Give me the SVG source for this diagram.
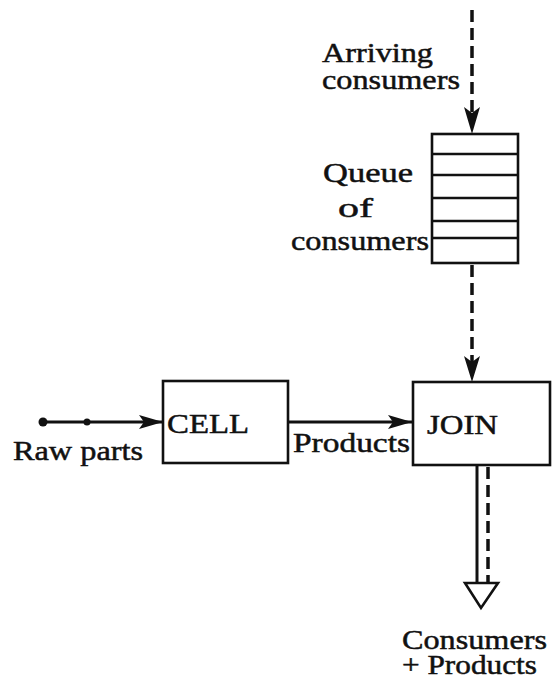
<svg xmlns="http://www.w3.org/2000/svg" width="554" height="682" viewBox="0 0 554 682" font-family="'Liberation Serif', 'Times New Roman', Times, serif">
  <style>
    .box { fill: #fff; stroke: #111; stroke-width: 2.6; }
    .solid { fill: none; stroke: #111; stroke-width: 3; }
    .dash { fill: none; stroke: #111; stroke-width: 3.5; stroke-dasharray: 12 6; }
    .slot { stroke: #111; stroke-width: 2.6; }
    .lbl { font-family: 'Liberation Serif', 'Times New Roman', Times, serif; font-size: 28px; fill: #111; stroke: #111; stroke-width: 0.5; }
  </style>
  <defs>
    <marker id="head" viewBox="0 0 24 14" refX="24" refY="7" markerWidth="24" markerHeight="14" markerUnits="userSpaceOnUse" orient="auto">
      <path d="M0,0 L24,7 L0,14 L5,7 Z" fill="#111"/>
    </marker>
  </defs>
  <rect width="554" height="682" fill="#fff"/>

  <g id="connectors">
    <!-- arriving consumers into the queue -->
    <line class="dash" x1="472" y1="10" x2="472" y2="112"/>
    <path d="M464,107 L472,113 L480,107 L472,134 Z" fill="#111"/>
    <!-- queue to JOIN -->
    <line class="dash" x1="472" y1="265" x2="472" y2="362"/>
    <path d="M464,356 L472,362 L480,356 L472,382 Z" fill="#111"/>
    <!-- raw parts into CELL -->
    <line class="solid" x1="43" y1="422" x2="163" y2="422" marker-end="url(#head)"/>
    <circle cx="43" cy="422" r="4.5" fill="#111"/>
    <circle cx="87" cy="422" r="3.5" fill="#111"/>
    <!-- products from CELL to JOIN -->
    <line class="solid" x1="288" y1="422" x2="412" y2="422" marker-end="url(#head)"/>
    <!-- consumers + products out of JOIN -->
    <line class="solid" x1="477" y1="465" x2="477" y2="583"/>
    <line class="dash" x1="488" y1="467" x2="488" y2="583"/>
    <path d="M465,583 L498,583 L481,608 Z" fill="#fff" stroke="#111" stroke-width="2.6" stroke-linejoin="miter"/>
  </g>

  <g id="arriving-label">
    <text class="lbl" x="322" y="62" textLength="111" lengthAdjust="spacingAndGlyphs">Arriving</text>
    <text class="lbl" x="322" y="89" textLength="138" lengthAdjust="spacingAndGlyphs">consumers</text>
  </g>

  <g id="queue">
    <rect class="box" x="432" y="134" width="86" height="129"/>
    <line class="slot" x1="432" y1="154" x2="518" y2="154"/>
    <line class="slot" x1="432" y1="175" x2="518" y2="175"/>
    <line class="slot" x1="432" y1="198" x2="518" y2="198"/>
    <line class="slot" x1="432" y1="221" x2="518" y2="221"/>
    <line class="slot" x1="432" y1="238" x2="518" y2="238"/>
    <text class="lbl" x="323" y="182" textLength="90" lengthAdjust="spacingAndGlyphs">Queue</text>
    <text class="lbl" x="338" y="217" textLength="35" lengthAdjust="spacingAndGlyphs">of</text>
    <text class="lbl" x="291" y="250" textLength="138" lengthAdjust="spacingAndGlyphs">consumers</text>
  </g>

  <g id="raw-parts">
    <text class="lbl" x="13" y="460" textLength="130" lengthAdjust="spacingAndGlyphs">Raw parts</text>
  </g>

  <g id="cell">
    <rect class="box" x="163" y="381" width="125" height="82"/>
    <text class="lbl" x="167" y="433" textLength="82" lengthAdjust="spacingAndGlyphs">CELL</text>
  </g>

  <g id="products">
    <text class="lbl" x="293" y="452" textLength="117" lengthAdjust="spacingAndGlyphs">Products</text>
  </g>

  <g id="join">
    <rect class="box" x="413" y="382" width="137" height="83"/>
    <text class="lbl" x="427" y="434" textLength="71" lengthAdjust="spacingAndGlyphs">JOIN</text>
  </g>

  <g id="output-label">
    <text class="lbl" x="402" y="649" textLength="145" lengthAdjust="spacingAndGlyphs">Consumers</text>
    <text class="lbl" x="402" y="674" textLength="135" lengthAdjust="spacingAndGlyphs">+ Products</text>
  </g>
</svg>
